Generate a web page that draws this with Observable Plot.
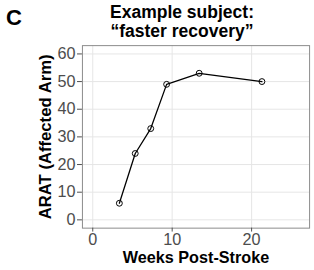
<!DOCTYPE html>
<html>
<head>
<meta charset="utf-8">
<script src="https://cdn.jsdelivr.net/npm/d3@7"></script>
<script src="https://cdn.jsdelivr.net/npm/@observablehq/plot@0.6"></script>
<style>
  html, body { margin: 0; padding: 0; background: #fff; overflow: hidden; }
  #wrap { position: relative; width: 314px; height: 270px; overflow: hidden; font-family: "Liberation Sans", Arial, sans-serif; }
  #panel { position: absolute; left: 6px; top: 7px; font-size: 22px; font-weight: bold; line-height: 1; color: #000; }
  #title { position: absolute; left: 0; top: 3px; width: 364px; text-align: center; font-size: 17.5px; font-weight: bold; line-height: 19px; color: #000; }
  #chart { position: absolute; left: 0; top: 0; }
</style>
</head>
<body>
<div id="wrap">
  <div id="chart"></div>
  <div id="panel">C</div>
  <div id="title">Example subject:<br>“faster recovery”</div>
</div>
<script>
const weeks = [3.35, 5.35, 7.3, 9.3, 13.4, 21.3];
const arat = [6, 24, 33, 49, 53, 50];
const xTicks = [0, 10, 20];
const yTicks = [0, 10, 20, 30, 40, 50, 60];
const xLabel = "Weeks Post-Stroke";
const yLabel = "ARAT (Affected Arm)";

const data = weeks.map((w, i) => ({week: w, arat: arat[i]}));

const chart = Plot.plot({
  width: 320,
  height: 270,
  marginTop: 46,
  marginBottom: 38,
  marginLeft: 83.5,
  marginRight: 5,
  style: {fontFamily: "Liberation Sans, Arial, sans-serif", background: "#fff"},
  x: {domain: [-1.3, 27.3]},
  y: {domain: [-3, 63]},
  marks: [
    Plot.gridX(xTicks, {stroke: "#e6e6e6", strokeOpacity: 1, strokeWidth: 1}),
    Plot.gridY(yTicks, {stroke: "#e6e6e6", strokeOpacity: 1, strokeWidth: 1}),
    Plot.frame({stroke: "#8a8a8a", strokeWidth: 1}),
    Plot.axisX({ticks: xTicks, tickSize: 4, tickPadding: 1, fontSize: 16.5, color: "#4d4d4d", label: null}),
    Plot.axisY({ticks: yTicks, tickSize: 5, tickPadding: 2, fontSize: 16.5, color: "#4d4d4d", label: null}),
    Plot.line(data, {x: "week", y: "arat", stroke: "#000", strokeWidth: 1.3}),
    Plot.dot(data, {x: "week", y: "arat", r: 3, stroke: "#000", fill: "none", strokeWidth: 1}),
    Plot.text([yLabel], {frameAnchor: "left", textAnchor: "middle", lineAnchor: "middle", dx: -37, rotate: -90, fontWeight: "bold", fontSize: 17, fill: "#000"}),
    Plot.text([xLabel], {frameAnchor: "bottom", textAnchor: "middle", lineAnchor: "middle", dy: 30, fontWeight: "bold", fontSize: 16.5, fill: "#000"})
  ]
});
document.getElementById("chart").appendChild(chart);
</script>
</body>
</html>
